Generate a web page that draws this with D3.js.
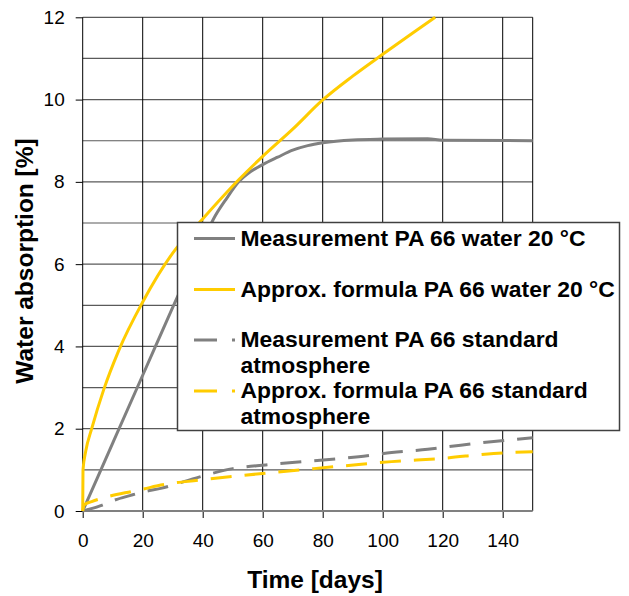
<!DOCTYPE html>
<html>
<head>
<meta charset="utf-8">
<script src="https://cdn.jsdelivr.net/npm/d3@7"></script>
<style>
  body { margin: 0; background: #fff; }
  text { font-family: "Liberation Sans", Arial, sans-serif; }
</style>
</head>
<body>
<div id="chart"></div>
<script>
// values
var waterMeasDays = [0, 10, 20, 30, 40, 44, 48, 52, 56, 60, 65, 70, 75, 80, 90, 100, 115, 120, 150];
var waterMeasVals = [0, 1.65, 3.3, 4.95, 6.55, 7.15, 7.6, 8.0, 8.25, 8.42, 8.6, 8.77, 8.88, 8.95, 9.02, 9.04, 9.05, 9.01, 9.0];

var waterFormDays = [0, 0.1, 1, 3, 7, 12, 20, 30, 40, 52, 60, 70, 80, 90, 100, 110, 117.5];
var waterFormVals = [0, 1.0, 1.45, 2.0, 2.95, 3.9, 5.08, 6.27, 7.1, 8.05, 8.62, 9.28, 9.99, 10.57, 11.1, 11.62, 12.0];

var atmMeasDays = [0, 6, 10, 16, 20, 26, 39, 50, 61, 77, 92, 103, 115, 126, 137, 150];
var atmMeasVals = [0, 0.13, 0.25, 0.38, 0.46, 0.55, 0.83, 1.03, 1.12, 1.22, 1.32, 1.42, 1.5, 1.6, 1.69, 1.78];

var atmFormDays = [0, 0.5, 3, 8.5, 16, 20, 26, 39, 61, 77, 92, 103, 120, 137, 150];
var atmFormVals = [0, 0.15, 0.23, 0.35, 0.47, 0.53, 0.63, 0.75, 0.92, 1.03, 1.13, 1.2, 1.28, 1.4, 1.44];

var seriesNames = [
    ["Measurement PA 66 water 20 °C"],
    ["Approx. formula PA 66 water 20 °C"],
    ["Measurement PA 66 standard", "atmosphere"],
    ["Approx. formula PA 66 standard", "atmosphere"]
];
var xTicks = [0, 20, 40, 60, 80, 100, 120, 140];
var yTicks = [0, 2, 4, 6, 8, 10, 12];

var svgWidth = 629;
var svgHeight = 596;
var plotLeft = 82.7, plotTop = 17.3, plotRight = 532.7, plotBottom = 511;

var svg = d3.select("#chart")
    .append("svg")
    .attr("width", svgWidth)
    .attr("height", svgHeight);

var xScale = d3.scaleLinear().domain([0, 150]).range([plotLeft, plotRight]);
var yScale = d3.scaleLinear().domain([0, 12]).range([plotBottom, plotTop]);

// horizontal grid, every 1 %
svg.append("g")
    .selectAll("line")
    .data(d3.range(1, 13))
    .enter()
    .append("line")
    .attr("x1", plotLeft)
    .attr("x2", plotRight)
    .attr("y1", d => yScale(d))
    .attr("y2", d => yScale(d))
    .attr("stroke", "#5a5a5a")
    .attr("stroke-width", 1.2);

// vertical grid
svg.append("g")
    .selectAll("line")
    .data(xTicks.slice(1).concat([150]))
    .enter()
    .append("line")
    .attr("x1", d => xScale(d))
    .attr("x2", d => xScale(d))
    .attr("y1", plotTop)
    .attr("y2", plotBottom)
    .attr("stroke", "#000")
    .attr("stroke-width", 1);

// axes
var bottomAxis = d3.axisBottom(xScale).tickValues(xTicks).tickSize(7).tickPadding(16);
var leftAxis = d3.axisLeft(yScale).tickValues(yTicks).tickSize(7).tickPadding(11);

var xAxisG = svg.append("g")
    .attr("transform", `translate(0, ${plotBottom})`)
    .call(bottomAxis);
xAxisG.select(".domain").remove();

var yAxisG = svg.append("g")
    .attr("transform", `translate(${plotLeft}, 0)`)
    .call(leftAxis);
yAxisG.select(".domain").remove();

[xAxisG, yAxisG].forEach(function (g) {
    g.selectAll("line").attr("stroke", "#000");
    g.selectAll("text")
        .attr("fill", "#000")
        .style("font-size", "19px")
        .style("font-family", "'Liberation Sans', Arial, sans-serif");
});

svg.append("line")
    .attr("x1", plotLeft).attr("x2", plotLeft)
    .attr("y1", plotTop).attr("y2", plotBottom)
    .attr("stroke", "#000");

svg.append("line")
    .attr("x1", plotLeft).attr("x2", plotRight)
    .attr("y1", plotBottom).attr("y2", plotBottom)
    .attr("stroke", "#808080")
    .attr("stroke-width", 2);

// series
function toPoints(days, vals) {
    return days.map(function (d, i) { return [d, vals[i]]; });
}

var line = d3.line()
    .x(d => xScale(d[0]))
    .y(d => yScale(d[1]))
    .curve(d3.curveMonotoneX);

var series = [
    { pts: toPoints(waterMeasDays, waterMeasVals), color: "#808080", dash: null },
    { pts: toPoints(waterFormDays, waterFormVals), color: "#FFCC00", dash: null },
    { pts: toPoints(atmMeasDays, atmMeasVals), color: "#808080", dash: "21,13" },
    { pts: toPoints(atmFormDays, atmFormVals), color: "#FFCC00", dash: "21,13" }
];

svg.append("g")
    .selectAll("path")
    .data(series)
    .enter()
    .append("path")
    .attr("d", d => line(d.pts))
    .attr("fill", "none")
    .attr("stroke", d => d.color)
    .attr("stroke-width", 3)
    .attr("stroke-dasharray", d => d.dash);

// legend
var legend = svg.append("g");

legend.append("rect")
    .attr("x", 177.5)
    .attr("y", 222.5)
    .attr("width", 442)
    .attr("height", 208)
    .attr("fill", "#fff")
    .attr("stroke", "#404040")
    .attr("stroke-width", 1.5);

var sampleY = [238.5, 289.5, 340, 391];
var textY = [246, 297.3, 347.3, 398.3];

series.forEach(function (s, i) {
    legend.append("line")
        .attr("x1", 194)
        .attr("x2", 235)
        .attr("y1", sampleY[i])
        .attr("y2", sampleY[i])
        .attr("stroke", s.color)
        .attr("stroke-width", 3)
        .attr("stroke-dasharray", s.dash ? "23,15" : null);

    seriesNames[i].forEach(function (t, j) {
        legend.append("text")
            .attr("x", 240.5)
            .attr("y", textY[i] + j * 25.5)
            .style("font-size", "22.9px")
            .style("font-weight", "bold")
            .text(t);
    });
});

// axis titles
svg.append("text")
    .attr("x", 315)
    .attr("y", 588)
    .attr("text-anchor", "middle")
    .style("font-size", "24.5px")
    .style("font-weight", "bold")
    .text("Time [days]");

svg.append("text")
    .attr("transform", "translate(33, 261) rotate(-90)")
    .attr("text-anchor", "middle")
    .style("font-size", "24.5px")
    .style("font-weight", "bold")
    .text("Water absorption [%]");
</script>
</body>
</html>
